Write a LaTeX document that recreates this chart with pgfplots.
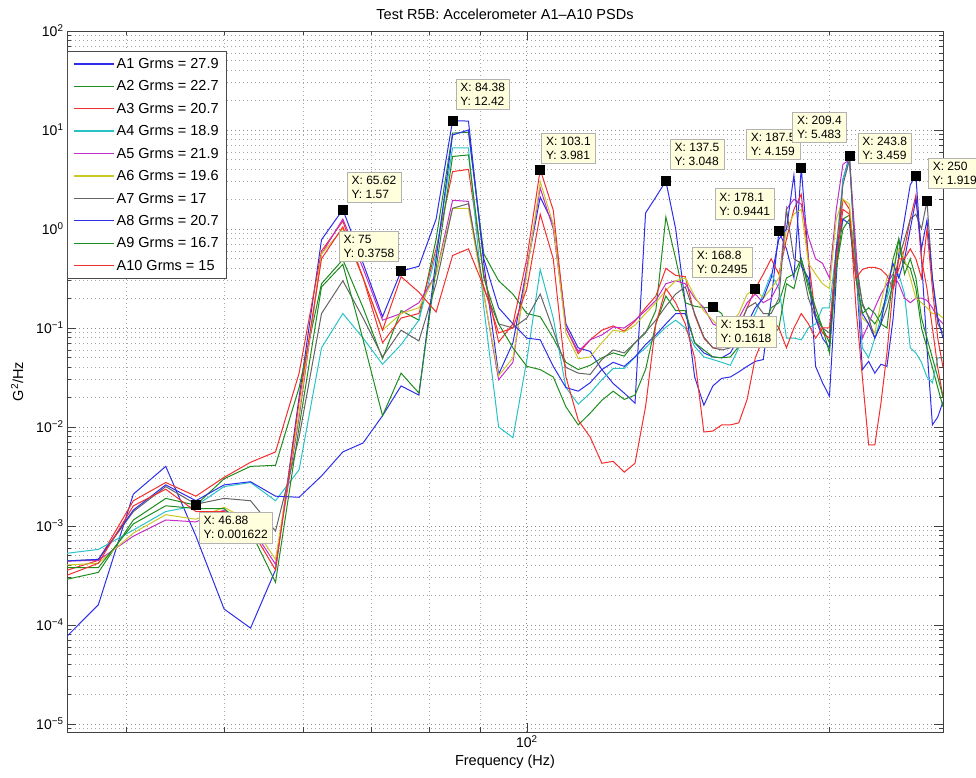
\documentclass[border=0pt]{standalone}
\usepackage{fontspec}
\setmainfont{Liberation Sans}
\usepackage{pgfplots}
\usepackage{pgfplotstable}
\pgfplotsset{compat=1.18}
\definecolor{cB}{RGB}{45,45,235}
\definecolor{cG}{RGB}{30,140,30}
\definecolor{cR}{RGB}{245,45,45}
\definecolor{cC}{RGB}{40,195,200}
\definecolor{cM}{RGB}{195,45,200}
\definecolor{cY}{RGB}{205,200,40}
\definecolor{cK}{RGB}{100,100,100}
\definecolor{tipfill}{RGB}{255,255,222}
\pgfplotstableread{
f a1 a2 a3 a4 a5 a6 a7 a8 a9 a10
34.375 6.6e-5 2.8e-4 3.4e-4 5.2e-4 4.4e-4 4.0e-4 4.4e-4 4.4e-4 3.8e-4 3.0e-4
37.5 1.6e-4 3.4e-4 4.5e-4 5.8e-4 4.5e-4 4.2e-4 4.6e-4 4.6e-4 3.8e-4 4.2e-4
40.625 2.1e-3 1.15e-3 1.8e-3 9.1e-4 7.9e-4 8.5e-4 1.4e-3 1.45e-3 1.05e-3 1.6e-3
43.75 4.0e-3 1.9e-3 2.75e-3 1.4e-3 1.15e-3 1.3e-3 2.5e-3 2.6e-3 1.6e-3 2.35e-3
46.875 7.9e-4 1.622e-3 2.0e-3 1.6e-3 1.1e-3 1.17e-3 1.66e-3 1.8e-3 1.5e-3 1.4e-3
50 1.45e-4 3.0e-3 3.1e-3 2.5e-3 1.45e-3 1.55e-3 1.9e-3 2.6e-3 1.5e-3 1.4e-3
53.125 9.3e-5 4.0e-3 4.4e-3 2.75e-3 1.0e-3 1.1e-3 1.8e-3 2.8e-3 8.9e-4 9.5e-4
56.25 3.6e-4 4.1e-3 5.6e-3 1.8e-3 4.1e-4 4.6e-4 8.9e-4 2.0e-3 2.7e-4 3.6e-4
59.375 0.02 0.025 0.035 3.7e-3 0.0126 0.014 7.9e-3 1.95e-3 0.01 0.018
62.5 0.78 0.28 0.60 0.063 0.56 0.56 0.14 3.2e-3 0.26 0.50
65.625 1.57 0.49 1.2 0.14 1.26 1.0 0.30 5.6e-3 0.44 1.05
68.75 0.45 0.16 0.32 0.079 0.40 0.32 0.126 6.9e-3 0.076 0.32
71.875 0.13 0.049 0.071 0.043 0.12 0.095 0.051 0.013 0.013 0.095
75 0.3758 0.15 0.126 0.068 0.14 0.14 0.095 0.026 0.035 0.33
78.125 0.42 0.12 0.14 0.12 0.18 0.16 0.074 0.021 0.022 0.23
81.25 1.26 0.79 0.63 0.56 0.35 0.35 0.28 0.5 0.4 0.145
84.375 12.42 9.3 3.8 6.6 1.95 1.62 1.62 8.9 5.4 0.54
87.5 12.3 9.5 4.0 6.6 1.9 1.62 1.8 10 5.6 0.63
90.625 0.45 0.56 0.35 0.16 0.22 0.22 0.25 0.5 0.32 0.26
93.75 0.034 0.30 0.072 0.01 0.030 0.033 0.11 0.16 0.11 0.089
96.875 0.071 0.22 0.11 7.8e-3 0.045 0.05 0.10 0.11 0.063 0.10
100 0.40 0.14 0.5 0.047 0.4 0.35 0.126 0.079 0.041 0.25
103.125 2.1 0.13 3.981 0.39 2.6 3.0 0.22 0.076 0.038 1.41
106.25 1.12 0.079 1.55 0.126 1.0 1.12 0.095 0.041 0.032 0.5
109.375 0.11 0.045 0.10 0.025 0.10 0.089 0.04 0.025 0.016 0.032
112.5 0.063 0.038 0.055 0.017 0.058 0.049 0.035 0.023 0.0105 0.0117
115.625 0.058 0.042 0.076 0.022 0.076 0.051 0.034 0.028 0.0138 7.9e-3
118.75 0.038 0.05 0.095 0.030 0.085 0.071 0.048 0.038 0.0186 4.3e-3
121.875 0.0275 0.056 0.105 0.039 0.102 0.095 0.06 0.045 0.023 4.5e-3
125 0.022 0.052 0.093 0.039 0.10 0.091 0.056 0.041 0.019 3.5e-3
128.125 0.0174 0.071 0.117 0.051 0.12 0.107 0.071 0.051 0.021 4.3e-3
131.25 1.45 0.089 0.16 0.063 0.15 0.14 0.091 0.068 0.038 0.016
134.375 2.1 0.15 0.21 0.081 0.19 0.18 0.12 0.085 0.11 0.11
137.5 3.048 1.32 0.40 0.102 0.28 0.24 0.166 0.11 0.21 0.25
140.625 1.0 0.5 0.34 0.12 0.30 0.30 0.22 0.14 0.15 0.18
143.75 0.18 0.18 0.33 0.10 0.28 0.32 0.26 0.14 0.15 0.11
146.875 0.032 0.166 0.135 0.065 0.2 0.21 0.14 0.071 0.071 0.05
150 0.0166 0.16 0.079 0.051 0.16 0.148 0.081 0.056 0.06 8.9e-3
153.125 0.026 0.1618 0.063 0.048 0.11 0.12 0.063 0.051 0.051 9.1e-3
156.25 0.031 0.14 0.063 0.045 0.1 0.095 0.06 0.05 0.05 0.0105
159.375 0.032 0.079 0.071 0.042 0.105 0.11 0.063 0.056 0.051 0.0105
162.5 0.036 0.071 0.1 0.063 0.126 0.14 0.1 0.079 0.065 0.011
165.625 0.041 0.089 0.16 0.1 0.18 0.22 0.16 0.11 0.089 0.019
168.75 0.046 0.126 0.25 0.14 0.22 0.2495 0.18 0.16 0.126 0.05
171.875 0.048 0.1 0.35 0.22 0.18 0.2 0.14 0.2 0.11 0.079
175 0.19 0.16 0.5 0.35 0.2 0.25 0.14 0.32 0.079 0.126
178.125 0.9441 0.18 0.35 0.25 0.28 0.32 0.2 0.79 0.1 0.1
181.25 0.63 0.32 0.79 0.079 1.58 1.0 1.58 1.0 0.28 0.063
184.375 0.32 0.35 1.58 0.079 2.0 1.41 0.5 3.5 0.25 0.1
187.5 4.159 0.5 2.24 0.076 1.78 1.58 0.45 0.42 0.5 0.14
190.625 0.5 0.25 0.5 0.1 0.83 0.45 0.2 0.32 0.28 0.11
193.75 0.041 0.14 0.126 0.11 0.5 0.35 0.126 0.126 0.16 0.079
196.875 0.028 0.1 0.089 0.16 0.45 0.28 0.1 0.079 0.1 0.1
200 0.0204 0.071 0.079 0.16 0.32 0.25 0.089 0.063 0.056 0.1
203.125 0.32 0.4 0.5 0.63 1.58 1.26 0.63 0.63 0.4 0.5
206.25 3.16 1.26 2.0 3.16 4.5 2.0 2.8 1.26 1.0 1.58
209.375 5.483 1.38 1.58 5.2 5.0 1.78 5.0 1.12 1.26 1.41
212.5 0.4 0.5 0.16 0.4 0.63 0.32 0.4 0.32 0.32 0.32
215.625 0.038 0.17 0.032 0.063 0.079 0.126 0.18 0.14 0.14 0.39
218.75 0.046 0.13 6.6e-3 0.05 0.11 0.11 0.126 0.11 0.16 0.41
221.875 0.035 0.11 6.6e-3 0.079 0.16 0.089 0.079 0.079 0.14 0.41
225 0.043 0.14 0.0174 0.126 0.22 0.18 0.11 0.11 0.11 0.39
228.125 0.041 0.22 0.056 0.2 0.28 0.32 0.16 0.25 0.1 0.34
231.25 0.12 0.49 0.24 0.32 0.35 0.4 0.28 0.45 0.32 0.25
234.375 0.56 0.79 0.4 0.35 0.28 0.63 0.5 0.32 0.79 0.5
237.5 1.26 0.45 0.63 0.22 0.2 0.5 0.79 0.5 0.35 0.5
240.625 2.8 0.4 1.26 0.063 0.18 0.32 1.26 1.0 0.5 0.63
243.75 3.459 0.25 2.2 0.056 0.2 0.2 1.41 2.0 0.32 0.5
246.875 0.5 0.1 0.5 0.045 0.2 0.18 1.0 0.63 0.126 0.32
250 0.063 0.063 0.25 0.032 0.19 0.16 1.919 1.23 0.079 1.0
253.125 0.0105 0.04 0.1 0.028 0.16 0.14 0.32 0.32 0.05 0.25
256.25 0.0126 0.025 0.04 0.05 0.126 0.14 0.11 0.126 0.032 0.079
259.375 0.018 0.016 0.02 0.05 0.11 0.126 0.089 0.079 0.02 0.04
}\datatable
\begin{document}
\begin{tikzpicture}[tip/.style={fill=tipfill, draw=black!30, line width=0.6pt, font=\fontsize{12}{14}\selectfont, align=left, inner xsep=4.5pt, inner ysep=4pt}]
\begin{axis}[
  scale only axis, width=876pt, height=701pt,
  xmode=log, ymode=log, log basis x=10, log basis y=10,
  xmin=34.9, xmax=259.375, ymin=8.3e-6, ymax=100,
  xtick={100}, xticklabels={10\textsuperscript{2}},
  minor xtick={40,50,60,70,80,90,200},
  ytick={1e-5,1e-4,1e-3,1e-2,1e-1,1,10,100},
  yticklabels={10\textsuperscript{−5},10\textsuperscript{−4},10\textsuperscript{−3},10\textsuperscript{−2},10\textsuperscript{−1},10\textsuperscript{0},10\textsuperscript{1},10\textsuperscript{2}},
  minor ytick={9e-6,2e-5,3e-5,4e-5,5e-5,6e-5,7e-5,8e-5,9e-5,2e-4,3e-4,4e-4,5e-4,6e-4,7e-4,8e-4,9e-4,2e-3,3e-3,4e-3,5e-3,6e-3,7e-3,8e-3,9e-3,0.02,0.03,0.04,0.05,0.06,0.07,0.08,0.09,0.2,0.3,0.4,0.5,0.6,0.7,0.8,0.9,2,3,4,5,6,7,8,9,20,30,40,50,60,70,80,90},
  grid=both,
  major grid style={black!45, line width=0.7pt, dash pattern=on 0.9pt off 3.1pt},
  minor grid style={black!35, line width=0.7pt, dash pattern=on 0.9pt off 3.1pt},
  tick align=inside, major tick length=9pt, minor tick length=4.5pt,
  tick style={black!75, line width=0.6pt},
  axis line style={black!75, line width=0.8pt},
  ticklabel style={font=\fontsize{14}{16}\selectfont},
  xlabel={Frequency (Hz)}, ylabel={G\textsuperscript{2}/Hz},
  label style={font=\fontsize{14.5}{16}\selectfont},
  ylabel style={yshift=6pt},
  title={Test R5B: Accelerometer A1–A10 PSDs},
  title style={font=\fontsize{14.5}{16}\selectfont, yshift=2pt},
  clip mode=individual,
  legend cell align=left,
  legend image code/.code={\draw[#1, line width=1.3pt, solid] (0pt,0.3pt) -- (40pt,0.3pt);},
  legend style={at={(0,1)}, anchor=north west, yshift=-20pt, draw=black!70, fill=white, line width=0.7pt,
    font=\fontsize{14.5}{16}\selectfont, row sep=6.8pt, inner xsep=6pt, inner ysep=5pt},
  every axis plot/.append style={line width=1.0pt},
]
\addplot[cB] table[x=f,y=a1]{\datatable}; \addlegendentry{A1 Grms = 27.9}
\addplot[cG] table[x=f,y=a2]{\datatable}; \addlegendentry{A2 Grms = 22.7}
\addplot[cR] table[x=f,y=a3]{\datatable}; \addlegendentry{A3 Grms = 20.7}
\addplot[cC] table[x=f,y=a4]{\datatable}; \addlegendentry{A4 Grms = 18.9}
\addplot[cM] table[x=f,y=a5]{\datatable}; \addlegendentry{A5 Grms = 21.9}
\addplot[cY] table[x=f,y=a6]{\datatable}; \addlegendentry{A6 Grms = 19.6}
\addplot[cK] table[x=f,y=a7]{\datatable}; \addlegendentry{A7 Grms = 17}
\addplot[cB] table[x=f,y=a8]{\datatable}; \addlegendentry{A8 Grms = 20.7}
\addplot[cG] table[x=f,y=a9]{\datatable}; \addlegendentry{A9 Grms = 16.7}
\addplot[cR] table[x=f,y=a10]{\datatable}; \addlegendentry{A10 Grms = 15}
\addplot[only marks, mark=square*, mark size=4.5pt, black, forget plot] coordinates {
(46.875,0.001622) (65.625,1.57) (75,0.3758) (84.375,12.42) (103.125,3.981) (137.5,3.048)
(153.125,0.1618) (168.75,0.2495) (178.125,0.9441) (187.5,4.159) (209.375,5.483) (243.75,3.459) (250,1.919)};
\node[tip, anchor=north west] at ([shift={(3pt,-7pt)}]axis cs:46.875,0.001622) {X: 46.88\\Y: 0.001622};
\node[tip, anchor=south west] at ([shift={(4pt,7pt)}]axis cs:65.625,1.57) {X: 65.62\\Y: 1.57};
\node[tip, anchor=south east] at ([shift={(-2pt,9pt)}]axis cs:75,0.3758) {X: 75\\Y: 0.3758};
\node[tip, anchor=south west] at ([shift={(3pt,11pt)}]axis cs:84.375,12.42) {X: 84.38\\Y: 12.42};
\node[tip, anchor=south west] at ([shift={(1pt,6pt)}]axis cs:103.125,3.981) {X: 103.1\\Y: 3.981};
\node[tip, anchor=south west] at ([shift={(4pt,11pt)}]axis cs:137.5,3.048) {X: 137.5\\Y: 3.048};
\node[tip, anchor=north west] at ([shift={(3pt,-9pt)}]axis cs:153.125,0.1618) {X: 153.1\\Y: 0.1618};
\node[tip, anchor=south east] at ([shift={(-3pt,11pt)}]axis cs:168.75,0.2495) {X: 168.8\\Y: 0.2495};
\node[tip, anchor=south east] at ([shift={(-4pt,12pt)}]axis cs:178.125,0.9441) {X: 178.1\\Y: 0.9441};
\node[tip, anchor=south east] at ([shift={(-1pt,8pt)}]axis cs:187.5,4.159) {X: 187.5\\Y: 4.159};
\node[tip, anchor=south east] at ([shift={(-3pt,13pt)}]axis cs:209.375,5.483) {X: 209.4\\Y: 5.483};
\node[tip, anchor=south east] at ([shift={(-4pt,12pt)}]axis cs:243.75,3.459) {X: 243.8\\Y: 3.459};
\node[tip, anchor=south west] at ([shift={(1pt,12pt)}]axis cs:250,1.919) {X: 250\\Y: 1.919};
\coordinate (SW) at (rel axis cs:0,0);
\coordinate (NE) at (rel axis cs:1,1);
\end{axis}
\pgfresetboundingbox
\path[use as bounding box] ([shift={(-67pt,-46pt)}]SW) rectangle ([shift={(33pt,31pt)}]NE);
\end{tikzpicture}
\end{document}
